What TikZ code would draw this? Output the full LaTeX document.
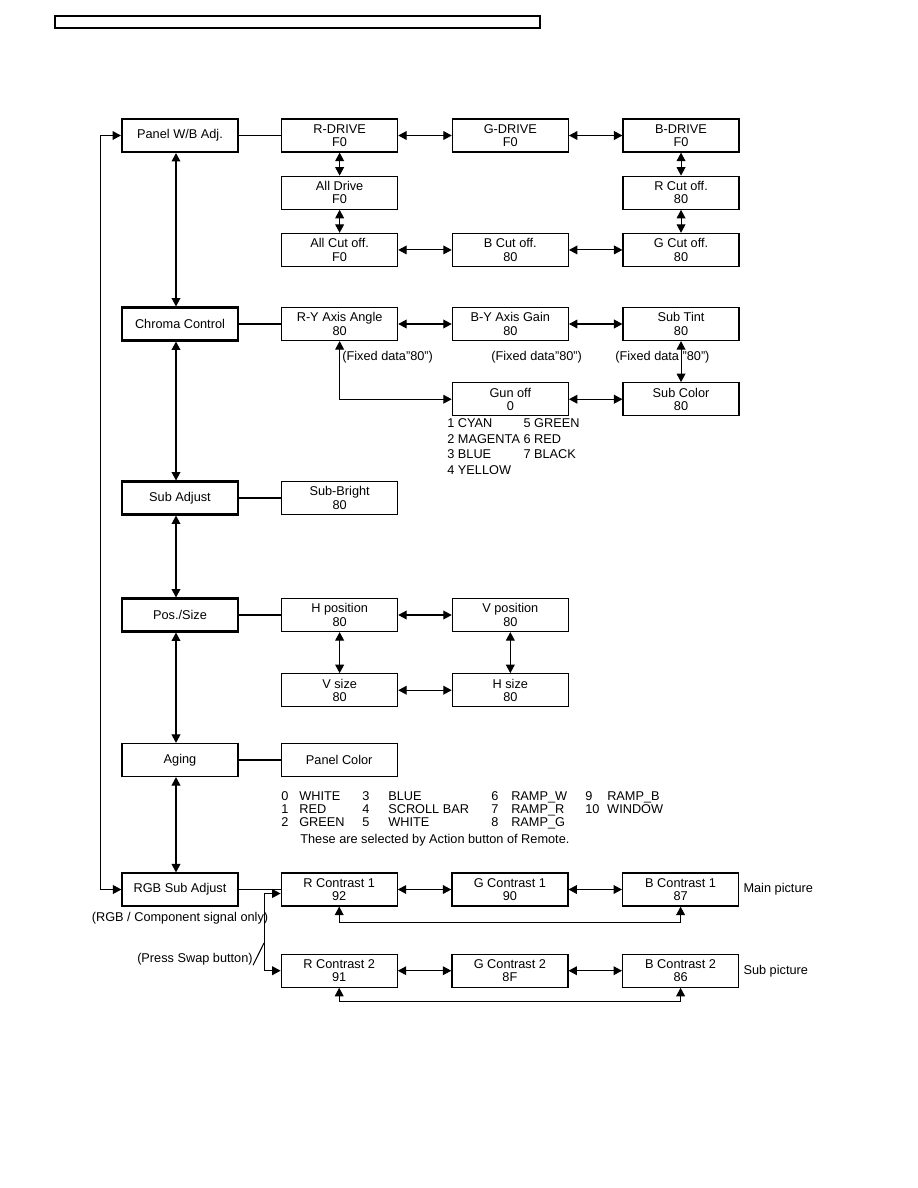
\documentclass[tikz,border=0pt]{standalone}
\usepackage{fontspec}
\setmainfont{Liberation Sans}
\usetikzlibrary{arrows.meta,positioning}

\begin{document}
\begin{tikzpicture}[
    x=0.02cm, y=-0.02cm,
    node distance=0.46cm and 1.07cm,
    box/.style={draw, line width=0.7pt, align=center, minimum width=2.32cm, minimum height=0.66cm, inner sep=0pt, font=\fontsize{7.25}{7.6}\selectfont},
    menubox/.style={box, line width=1.2pt},
    note/.style={inner sep=0pt, align=left, font=\fontsize{7.25}{7.6}\selectfont},
    wire/.style={line width=0.6pt},
    arrow/.style={wire, {Triangle[length=4.8pt,width=5pt]}-{Triangle[length=4.8pt,width=5pt]}}
]
\useasboundingbox (0,0) rectangle (918,1188);
\node[draw, line width=0.7pt, minimum width=9.7cm, minimum height=0.24cm, inner sep=0pt] (header) at (297.5,22) {};

% menu column
\node[menubox] (panel) at (180,135.5) {Panel W/B Adj.};
\node[menubox] (chroma) at (180,324) {Chroma Control};
\node[menubox] (subadj) at (180,498) {Sub Adjust};
\node[menubox] (pos) at (180,615) {Pos./Size};
\node[box] (aging) at (180,760) {Aging};
\node[box] (rgb) at (180,889.5) {RGB Sub Adjust};
\node[note, below=0.1cm of rgb] (rgbnote) {(RGB / Component signal only)};

% panel w/b
\node[box, right=0.84cm of panel] (rdrive) {R-DRIVE\\F0};
\node[box, right=of rdrive] (gdrive) {G-DRIVE\\F0};
\node[box, right=of gdrive] (bdrive) {B-DRIVE\\F0};
\node[box, below=of rdrive] (alldrive) {All Drive\\F0};
\node[box, below=of alldrive] (allcut) {All Cut off.\\F0};
\node[box, below=of bdrive] (rcut) {R Cut off.\\80};
\node[box, below=of rcut] (gcut) {G Cut off.\\80};
\node[box, right=of allcut] (bcut) {B Cut off.\\80};

% chroma
\node[box, right=0.84cm of chroma] (ryangle) {R-Y Axis Angle\\80};
\node[box, right=of ryangle] (bygain) {B-Y Axis Gain\\80};
\node[box, right=of bygain] (subtint) {Sub Tint\\80};
\node[box, below=0.82cm of bygain] (gunoff) {Gun off\\0};
\node[box, below=0.82cm of subtint] (subcolor) {Sub Color\\80};
\node[note, anchor=west] (fix1) at (342,357) {(Fixed data"80")};
\node[note, anchor=west] (fix2) at (491,357) {(Fixed data"80")};
\node[note, anchor=west] (fix3) at (615,357) {(Fixed data "80")};
\node[note, anchor=base west, font=\fontsize{7.25}{8.9}\selectfont] (gunlist) at (447,427.5) {%
  \begin{tabular}[t]{@{}l@{\ }l@{}}
  1 CYAN & 5 GREEN\\
  2 MAGENTA & 6 RED\\
  3 BLUE & 7 BLACK\\
  4 YELLOW &
  \end{tabular}};

% sub adjust
\node[box, right=0.84cm of subadj] (subbright) {Sub-Bright\\80};

% pos./size
\node[box, right=0.84cm of pos] (hpos) {H position\\80};
\node[box, right=of hpos] (vpos) {V position\\80};
\node[box, below=0.82cm of hpos] (vsize) {V size\\80};
\node[box, right=of vsize] (hsize) {H size\\80};

% aging
\node[box, right=0.84cm of aging] (panelcolor) {Panel Color};
\node[note, anchor=base west, font=\fontsize{7.25}{7.4}\selectfont] (colorlist) at (281,800.5) {%
  \begin{tabular}[t]{@{}p{0.36cm}@{}p{1.26cm}@{}p{0.52cm}@{}p{2.06cm}@{}p{0.40cm}@{}p{1.48cm}@{}p{0.44cm}@{}l@{}}
  0 & WHITE & 3 & BLUE & 6 & RAMP\_W & 9 & RAMP\_B\\
  1 & RED & 4 & SCROLL BAR & 7 & RAMP\_R & 10 & WINDOW\\
  2 & GREEN & 5 & WHITE & 8 & RAMP\_G & &
  \end{tabular}};
\node[note, anchor=base west] (colornote) at (300,843) {These are selected by Action button of Remote.};

% rgb sub adjust
\node[box, right=0.84cm of rgb] (rcontr1) {R Contrast 1\\92};
\node[box, right=of rcontr1] (gcontr1) {G Contrast 1\\90};
\node[box, right=of gcontr1] (bcontr1) {B Contrast 1\\87};
\node[box, below=0.94cm of rcontr1] (rcontr2) {R Contrast 2\\91};
\node[box, right=of rcontr2] (gcontr2) {G Contrast 2\\8F};
\node[box, right=of gcontr2] (bcontr2) {B Contrast 2\\86};
\node[note, right=0.08cm of bcontr1] (mainpic) {Main picture};
\node[note, right=0.08cm of bcontr2] (subpic) {Sub picture};
\node[note, anchor=east] (swapnote) at (253,959) {(Press Swap button)};
\coordinate (swapknee) at (264,943);

% links
\draw[arrow] ([xshift=-0.08cm]panel.south) -- ([xshift=-0.08cm]chroma.north);
\draw[arrow] ([xshift=-0.08cm]chroma.south) -- ([xshift=-0.08cm]subadj.north);
\draw[arrow] ([xshift=-0.08cm]subadj.south) -- ([xshift=-0.08cm]pos.north);
\draw[arrow] ([xshift=-0.08cm]pos.south) -- ([xshift=-0.08cm]aging.north);
\draw[arrow] ([xshift=-0.08cm]aging.south) -- ([xshift=-0.08cm]rgb.north);
\draw[arrow] (panel.west) -- ++(-20,0) |- (rgb.west);

\draw[wire] (panel) -- (rdrive);
\draw[arrow] (rdrive) -- (gdrive);
\draw[arrow] (gdrive) -- (bdrive);
\draw[arrow] (rdrive) -- (alldrive);
\draw[arrow] (alldrive) -- (allcut);
\draw[arrow] (allcut) -- (bcut);
\draw[arrow] (bcut) -- (gcut);
\draw[arrow] (bdrive) -- (rcut);
\draw[arrow] (rcut) -- (gcut);

\draw[wire] (chroma) -- (ryangle);
\draw[arrow] (ryangle) -- (bygain);
\draw[arrow] (bygain) -- (subtint);
\draw[arrow] (subtint) -- (subcolor);
\draw[arrow] (gunoff) -- (subcolor);
\draw[arrow] (ryangle) |- (gunoff);

\draw[wire] (subadj) -- (subbright);

\draw[wire] (pos) -- (hpos);
\draw[arrow] (hpos) -- (vpos);
\draw[arrow] (hpos) -- (vsize);
\draw[arrow] (vpos) -- (hsize);
\draw[arrow] (vsize) -- (hsize);

\draw[wire] (aging) -- (panelcolor);

\draw[wire] (rgb) -- (rcontr1);
\draw[arrow] (rcontr1) -- (gcontr1);
\draw[arrow] (gcontr1) -- (bcontr1);
\draw[arrow] (rcontr1.south) -- ++(0,16) -| (bcontr1.south);
\draw[arrow] (rcontr2) -- (gcontr2);
\draw[arrow] (gcontr2) -- (bcontr2);
\draw[arrow] (rcontr2.south) -- ++(0,14) -| (bcontr2.south);
\draw[arrow] ([yshift=-0.08cm]rcontr1.west) -- ++(-16,0) |- (rcontr2.west);
\draw[wire] (swapnote.south east) -- (swapknee);
\end{tikzpicture}
\end{document}
